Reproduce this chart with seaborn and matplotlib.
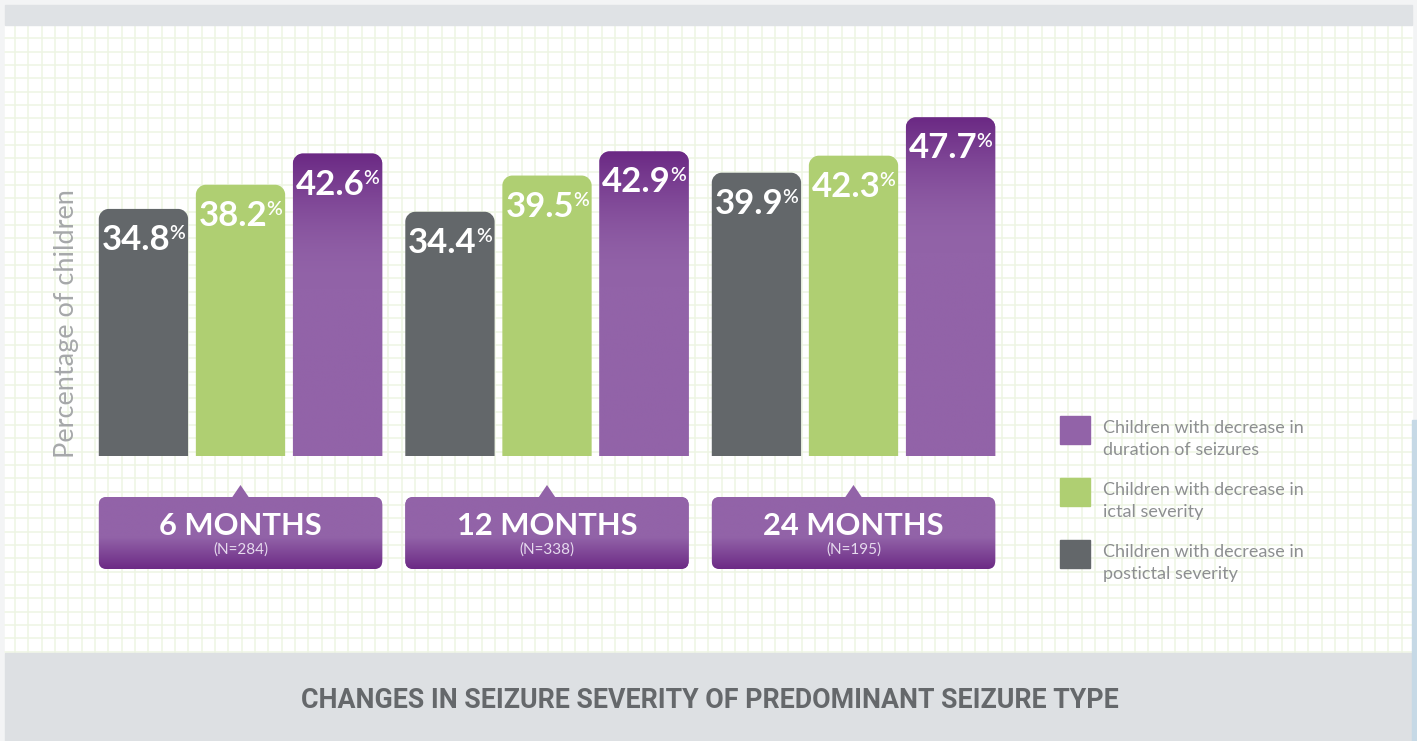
import numpy as np
import pandas as pd
import seaborn as sns
import matplotlib.pyplot as plt
import matplotlib.colors as mcolors
from matplotlib.path import Path
from matplotlib.patches import PathPatch, Rectangle, FancyBboxPatch, Polygon

# data
periods = ["6 MONTHS", "12 MONTHS", "24 MONTHS"]
sample_sizes = ["(N=284)", "(N=338)", "(N=195)"]
measures = ["Children with decrease in\npostictal severity",
            "Children with decrease in\nictal severity",
            "Children with decrease in\nduration of seizures"]
postictal = [34.8, 34.4, 39.9]
ictal = [38.2, 39.5, 42.3]
duration = [42.6, 42.9, 47.7]
colors = ["#63676a", "#afcf72", "#9263a8"]
title = "CHANGES IN SEIZURE SEVERITY OF PREDOMINANT SEIZURE TYPE"

df = pd.DataFrame({
    "period": periods * 3,
    "measure": np.repeat(measures, 3),
    "value": postictal + ictal + duration,
})

sns.set_theme(style="white")
plt.rcParams['font.family'] = ['Lato', 'DejaVu Sans']

W, H = 1417, 741
fig = plt.figure(figsize=(W / 100, H / 100), dpi=100, facecolor="#f3f4f5")

# background panel in pixel coordinates (y downwards)
bg = fig.add_axes([0, 0, 1, 1], zorder=0)
bg.set_xlim(0, W)
bg.set_ylim(H, 0)
bg.axis('off')
bg.add_patch(Rectangle((5, 25), 1407, 628, color="white", zorder=0))
for gx in np.arange(1.7, 1412, 40 / 3):
    if gx > 5:
        bg.plot([gx, gx], [25, 653], color="#eef5e3", lw=1.1, zorder=1)
for gy in np.arange(25 + 40 / 3, 653, 40 / 3):
    bg.plot([5, 1412], [gy, gy], color="#eef5e3", lw=1.1, zorder=1)
bg.add_patch(Rectangle((5, 5), 1407, 20, color="#dfe2e5", zorder=2))
bg.add_patch(Rectangle((5, 653), 1407, 88, color="#dde0e3", zorder=2))
bg.add_patch(Rectangle((1412, 420), 5, 321, color="#c6d9e6", zorder=2))

# main chart
ax = fig.add_axes([87.25 / W, (H - 456) / H, 919.5 / W, 355 / H], zorder=2)
ax.patch.set_alpha(0)
sns.barplot(data=df, x="period", y="value", hue="measure", hue_order=measures,
            palette=colors, width=0.95, gap=0.08, saturation=1, legend=False, ax=ax)
ax.set_xlim(-0.5, 2.5)
ax.set_ylim(0, 50)
sns.despine(ax=ax, left=True, bottom=True)
ax.set_xticks([])
ax.set_yticks([])
ax.set_xlabel("")
ax.set_ylabel("Percentage of children", fontsize=19.5, color="#a6a8aa", va="center")
ax.yaxis.set_label_coords(-0.0225, 0.372)

fig.canvas.draw()
renderer = fig.canvas.get_renderer()


def text_width(txt, **kw):
    t = fig.text(0, 0, txt, **kw)
    w = t.get_window_extent(renderer).width
    t.remove()
    return w


o = ax.transData.transform((0, 0))
px_x = ax.transData.transform((1, 0))[0] - o[0]
px_y = ax.transData.transform((0, 1))[1] - o[1]


def rounded_top(x0, x1, y0, y1, rx, ry):
    k = 0.5523
    verts = [(x0, y0), (x0, y1 - ry), (x0, y1 - ry + k * ry), (x0 + rx - k * rx, y1),
             (x0 + rx, y1), (x1 - rx, y1), (x1 - rx + k * rx, y1), (x1, y1 - ry + k * ry),
             (x1, y1 - ry), (x1, y0), (x0, y0)]
    codes = [Path.MOVETO, Path.LINETO, Path.CURVE4, Path.CURVE4, Path.CURVE4, Path.LINETO,
             Path.CURVE4, Path.CURVE4, Path.CURVE4, Path.LINETO, Path.CLOSEPOLY]
    return Path(verts, codes)


purple = np.array(mcolors.to_rgb(colors[2]))
dark_purple = np.array(mcolors.to_rgb("#6b2984"))
num_kw = dict(fontsize=25, fontweight="bold")
pct_kw = dict(fontsize=14, fontweight="semibold")
groups = {}

for bar in list(ax.patches):
    x0, w, h = bar.get_x(), bar.get_width(), bar.get_height()
    fc = bar.get_facecolor()
    bar.set_visible(False)
    path = rounded_top(x0, x0 + w, 0, h, 10 / px_x, 10 / px_y)
    pp = PathPatch(path, facecolor=fc, edgecolor="none", zorder=3)
    ax.add_patch(pp)
    if np.allclose(fc[:3], purple, atol=0.01):
        ys = np.linspace(0, h, 300)
        t = np.clip((h - ys) * px_y / 135, 0, 1)
        t = (np.sin(t * np.pi / 2))[:, None]
        grad = dark_purple + (purple - dark_purple) * t
        im = ax.imshow(grad[:, None, :], extent=(x0, x0 + w, 0, h), origin="lower",
                       aspect="auto", zorder=4, interpolation="bilinear")
        im.set_clip_path(pp)
    cx = x0 + w / 2
    g = int(round(cx))
    groups.setdefault(g, []).append((x0, x0 + w))
    num = f"{h:.1f}"
    wn = text_width(num, **num_kw)
    wp = text_width("%", **pct_kw)
    total = wn - 1 + wp
    ax.annotate(num, (cx, h), xytext=(-total / 2, -41), textcoords="offset pixels",
                ha="left", va="baseline", color="white", zorder=5, **num_kw)
    ax.annotate("%", (cx, h), xytext=(-total / 2 + wn - 1, -16), textcoords="offset pixels",
                ha="left", va="top", color="white", zorder=5, **pct_kw)
ax.set_xlim(-0.5, 2.5)
ax.set_ylim(0, 50)

# period label boxes under each group
box_top, box_bot = 497, 569
for g in sorted(groups):
    left = min(a for a, b in groups[g])
    right = max(b for a, b in groups[g])
    pl = ax.transData.transform((left, 0))[0]
    pr = ax.transData.transform((right, 0))[0]
    pc = ax.transData.transform((g, 0))[0]
    box = FancyBboxPatch((pl, box_top), pr - pl, box_bot - box_top,
                         boxstyle="round,pad=0,rounding_size=8",
                         facecolor=colors[2], edgecolor="none", zorder=5)
    bg.add_patch(box)
    ys = np.linspace(box_top, box_bot, 200)
    t = np.clip((ys - 537) / 32, 0, 1)[:, None]
    grad = purple + (np.array(mcolors.to_rgb("#6c2a85")) - purple) * t
    im = bg.imshow(grad[:, None, :], extent=(pl, pr, box_bot, box_top), origin="upper",
                   aspect="auto", zorder=6, interpolation="bilinear")
    im.set_clip_path(box)
    bg.add_patch(Polygon([(pc - 8.5, box_top + 0.5), (pc, 485), (pc + 8.5, box_top + 0.5)],
                         closed=True, facecolor=colors[2], edgecolor="none", zorder=6))
    bg.text(pc, 535, periods[g], ha="center", va="baseline", color="white",
            fontsize=22.2, fontweight="bold", zorder=7)
    bg.text(pc, 554, sample_sizes[g], ha="center", va="baseline", color="#e6daee",
            fontsize=11, zorder=7)

bg.set_xlim(0, W)
bg.set_ylim(H, 0)

# legend, top to bottom: duration, ictal, postictal
for i, k in enumerate([2, 1, 0]):
    y = 416 + 62 * i
    bg.add_patch(Rectangle((1060, y), 30, 28, color=colors[k], zorder=5))
    bg.text(1103, y + 23, measures[k], ha="left", va="center", fontsize=13,
            color="#8d8f91", linespacing=1.5, zorder=5)

# title in the bottom band, fitted to the reference width
title_kw = dict(family=["Roboto", "DejaVu Sans"], fontweight="bold")
tw = text_width(title, fontsize=18, **title_kw)
bg.text(710, 701, title, ha="center", va="center", color="#65686b",
        fontsize=18 * 816 / tw, zorder=5, **title_kw)

fig.savefig("out.png", dpi=100, facecolor=fig.get_facecolor())
